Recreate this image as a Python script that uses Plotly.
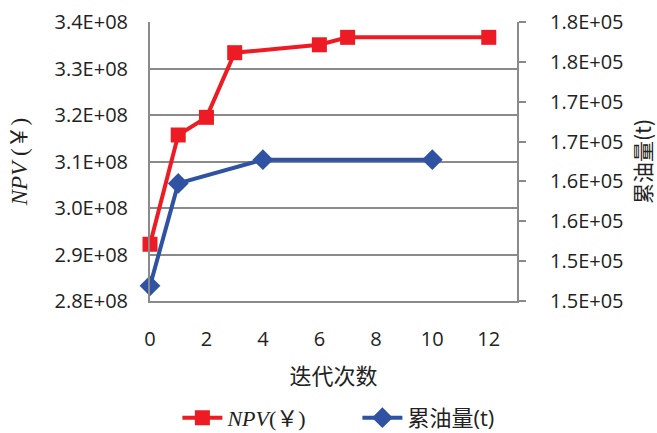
import plotly.graph_objects as go

# Optimisation history: NPV and cumulative oil per iteration
npv_iter = [0, 1, 2, 3, 6, 7, 12]
npv_vals = [2.922e8, 3.157e8, 3.195e8, 3.334e8, 3.351e8, 3.367e8, 3.367e8]

oil_iter = [0, 1, 4, 10]
oil_vals = [1.499e5, 1.6275e5, 1.6573e5, 1.6573e5]

x_ticks = [0, 2, 4, 6, 8, 10, 12]
npv_ticks = [2.8e8, 2.9e8, 3.0e8, 3.1e8, 3.2e8, 3.3e8, 3.4e8]
npv_ticktext = ["2.8E+08", "2.9E+08", "3.0E+08", "3.1E+08", "3.2E+08", "3.3E+08", "3.4E+08"]
oil_ticks = [1.48e5, 1.53e5, 1.58e5, 1.63e5, 1.68e5, 1.73e5, 1.78e5, 1.83e5]
oil_ticktext = ["1.5E+05", "1.5E+05", "1.6E+05", "1.6E+05", "1.7E+05", "1.7E+05", "1.8E+05", "1.8E+05"]

RED = "#ED1C24"
BLUE = "#2F52A3"
GRID = "#8A8A8A"
TEXT = "#222222"
SANS = "Open Sans, Noto Sans CJK SC, sans-serif"
SERIF = "Liberation Serif, Noto Sans CJK SC, serif"
CJK = "Noto Sans CJK SC"

YEN = f"<span style='font-family:{CJK}'>￥</span>"

fig = go.Figure()
fig.add_trace(go.Scatter(
    x=npv_iter, y=npv_vals, mode="lines+markers",
    name=f"<i>NPV</i>({YEN})",
    line=dict(color=RED, width=4),
    marker=dict(symbol="square", size=15, color=RED),
    cliponaxis=False,
    yaxis="y",
))
fig.add_trace(go.Scatter(
    x=oil_iter, y=oil_vals, mode="lines+markers",
    name=f"<span style='font-family:{CJK}'>累油量</span><span style='font-family:Open Sans'>(t)</span>",
    line=dict(color=BLUE, width=4),
    marker=dict(symbol="diamond", size=16, color=BLUE),
    cliponaxis=False,
    yaxis="y2",
))

fig.update_layout(
    width=657, height=433,
    margin=dict(l=150, r=140, t=22, b=132, autoexpand=False),
    paper_bgcolor="white", plot_bgcolor="white",
    font=dict(family=SANS, size=20, color=TEXT),
    xaxis=dict(
        range=[0, 13], tickvals=x_ticks, ticks="",
        showgrid=False, zeroline=False, automargin=False,
        showline=True, linecolor=GRID, linewidth=2,
        ticklabelstandoff=19,
        tickfont=dict(size=20),
        title=dict(text="迭代次数", standoff=18,
                   font=dict(family=CJK, size=22, color=TEXT)),
    ),
    yaxis=dict(
        range=[2.8e8, 3.4e8], tickvals=npv_ticks, ticktext=npv_ticktext,
        ticks="", showgrid=True, gridcolor=GRID, gridwidth=1.5,
        zeroline=False, showline=True, linecolor=GRID, linewidth=2,
        automargin=False,
        ticklabelstandoff=16,
        tickfont=dict(size=20),
        title=dict(text=f"<i>NPV</i> ({YEN})", standoff=24,
                   font=dict(family=SERIF, size=23, color=TEXT)),
    ),
    yaxis2=dict(
        overlaying="y", side="right",
        range=[1.48e5, 1.83e5], tickvals=oil_ticks, ticktext=oil_ticktext,
        ticks="outside", ticklen=7, tickwidth=2, tickcolor=GRID,
        showgrid=False, zeroline=False, automargin=False,
        showline=True, linecolor=GRID, linewidth=2,
        ticklabelstandoff=20,
        tickfont=dict(size=20),
        title=dict(text="累油量(t)", standoff=18,
                   font=dict(family=CJK, size=21, color=TEXT)),
    ),
    legend=dict(
        orientation="h", xref="container", x=0.27, xanchor="left",
        yref="container", y=0.035, yanchor="middle",
        font=dict(family=SERIF, size=22, color=TEXT),
        itemwidth=40, entrywidth=125,
    ),
    showlegend=True,
)

fig.write_html("out.html")
